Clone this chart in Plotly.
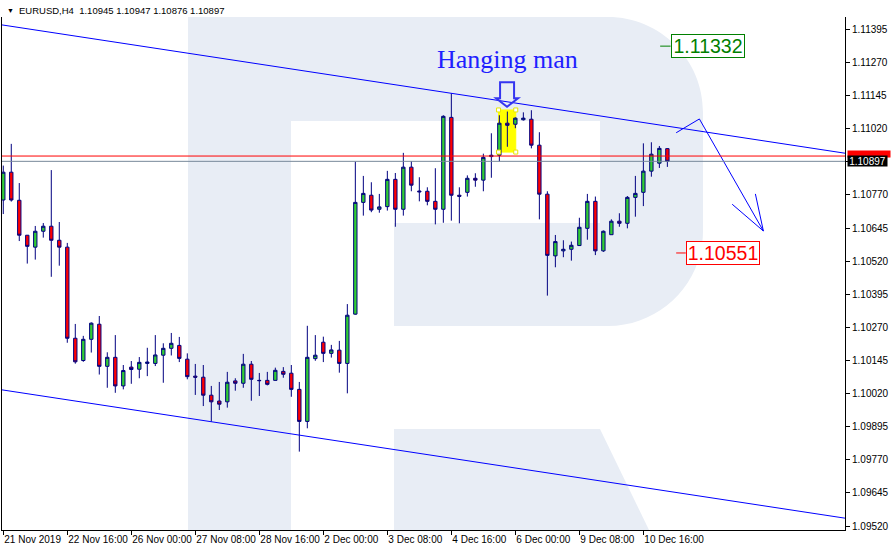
import plotly.graph_objects as go

# EURUSD H4 bars, 21 Nov 2019 08:00 .. 11 Dec 2019 04:00 (bar index on x)
bar_index = list(range(84))

opens = [
    1.10751, 1.10856, 1.10750, 1.10618, 1.10573, 1.10633, 1.10652, 1.10599, 1.10573, 1.10229,
    1.10145, 1.10225, 1.10282, 1.10123, 1.10157, 1.10049, 1.10120, 1.10112, 1.10134, 1.10134,
    1.10165, 1.10191, 1.10202, 1.10150, 1.10086, 1.10082, 1.10014, 1.09992, 1.09989, 1.10068,
    1.10059, 1.10131, 1.10070, 1.10070, 1.10070, 1.10104, 1.10097, 1.10036, 1.09915, 1.10152,
    1.10214, 1.10172, 1.10184, 1.10134, 1.10320, 1.10742, 1.10769, 1.10716, 1.10726, 1.10829,
    1.10716, 1.10875, 1.10785, 1.10784, 1.10746, 1.10716, 1.11063, 1.10769, 1.10780, 1.10833,
    1.10826, 1.10915, 1.10920, 1.11041, 1.11037, 1.11054, 1.11056, 1.10958, 1.10773, 1.10540,
    1.10559, 1.10565, 1.10579, 1.10644, 1.10746, 1.10559, 1.10620, 1.10671, 1.10663, 1.10761,
    1.10780, 1.10860, 1.10890, 1.10945,
]
highs = [
    1.10881, 1.10963, 1.10815, 1.10619, 1.10653, 1.10664, 1.10864, 1.10668, 1.10589, 1.10283,
    1.10238, 1.10289, 1.10313, 1.10176, 1.10241, 1.10128, 1.10143, 1.10158, 1.10193, 1.10241,
    1.10210, 1.10249, 1.10234, 1.10172, 1.10132, 1.10128, 1.10049, 1.10064, 1.10102, 1.10078,
    1.10170, 1.10143, 1.10098, 1.10102, 1.10118, 1.10120, 1.10128, 1.10064, 1.10276, 1.10241,
    1.10235, 1.10204, 1.10219, 1.10358, 1.10896, 1.10842, 1.10818, 1.10774, 1.10861, 1.10853,
    1.10929, 1.10898, 1.10837, 1.10799, 1.10871, 1.11071, 1.11154, 1.10799, 1.10844, 1.10852,
    1.10926, 1.11003, 1.11071, 1.11085, 1.11063, 1.11082, 1.11090, 1.11007, 1.10784, 1.10619,
    1.10599, 1.10594, 1.10684, 1.10774, 1.10764, 1.10636, 1.10678, 1.10701, 1.10766, 1.10842,
    1.10965, 1.10969, 1.10955, 1.10947,
]
lows = [
    1.10698, 1.10745, 1.10596, 1.10511, 1.10526, 1.10609, 1.10461, 1.10503, 1.10212, 1.10133,
    1.10140, 1.10175, 1.10092, 1.10042, 1.10023, 1.10036, 1.10057, 1.10078, 1.10086, 1.10124,
    1.10061, 1.10164, 1.10139, 1.10074, 1.10015, 1.09973, 1.09914, 1.09958, 1.09967, 1.10031,
    1.10042, 1.09993, 1.10011, 1.10051, 1.10069, 1.10080, 1.10008, 1.09801, 1.09889, 1.10144,
    1.10139, 1.10156, 1.10099, 1.10021, 1.10318, 1.10692, 1.10705, 1.10703, 1.10711, 1.10650,
    1.10692, 1.10784, 1.10746, 1.10731, 1.10659, 1.10665, 1.10673, 1.10663, 1.10764, 1.10801,
    1.10784, 1.10835, 1.10897, 1.10952, 1.11022, 1.11051, 1.10946, 1.10678, 1.10390, 1.10497,
    1.10535, 1.10522, 1.10578, 1.10601, 1.10543, 1.10555, 1.10620, 1.10650, 1.10644, 1.10688,
    1.10728, 1.10839, 1.10872, 1.10876,
]
closes = [
    1.10856, 1.10751, 1.10618, 1.10576, 1.10633, 1.10652, 1.10599, 1.10573, 1.10229, 1.10140,
    1.10225, 1.10286, 1.10123, 1.10157, 1.10049, 1.10107, 1.10111, 1.10138, 1.10139, 1.10166,
    1.10191, 1.10210, 1.10153, 1.10084, 1.10082, 1.10014, 1.09989, 1.09980, 1.10063, 1.10059,
    1.10131, 1.10074, 1.10069, 1.10055, 1.10108, 1.10093, 1.10036, 1.09915, 1.10157, 1.10165,
    1.10172, 1.10185, 1.10134, 1.10316, 1.10742, 1.10776, 1.10713, 1.10725, 1.10829, 1.10716,
    1.10875, 1.10807, 1.10782, 1.10746, 1.10716, 1.11067, 1.10769, 1.10765, 1.10833, 1.10826,
    1.10912, 1.10920, 1.11041, 1.11033, 1.11060, 1.11060, 1.10958, 1.10773, 1.10542, 1.10594,
    1.10565, 1.10580, 1.10648, 1.10746, 1.10559, 1.10633, 1.10671, 1.10663, 1.10761, 1.10776,
    1.10860, 1.10924, 1.10946, 1.10897,
]

time_tick_pos = [0, 8, 16, 24, 32, 40, 48, 56, 64, 72, 80]
time_tick_text = ["21 Nov 2019", "22 Nov 16:00", "26 Nov 00:00", "27 Nov 08:00", "28 Nov 16:00",
                  "2 Dec 00:00", "3 Dec 08:00", "4 Dec 16:00", "6 Dec 00:00", "9 Dec 08:00",
                  "10 Dec 16:00"]
price_ticks = [1.09520, 1.09645, 1.09770, 1.09895, 1.10020, 1.10145, 1.10270, 1.10395,
               1.10520, 1.10645, 1.10770, 1.10895, 1.11020, 1.11145, 1.11270, 1.11395]
# 1.10895 sits under the bid price box, so it shows no label
price_tick_text = ["1.09520", "1.09645", "1.09770", "1.09895", "1.10020", "1.10145", "1.10270",
                   "1.10395", "1.10520", "1.10645", "1.10770", "", "1.11020", "1.11145",
                   "1.11270", "1.11395"]

# channel (two parallel trend lines) and forecast arrow
channel_x = [-1, 106]
channel_upper = [1.11416, 1.10924]
channel_lower = [1.10038, 1.09546]
forecast_x = [84.1, 87.0, 95.0]
forecast_y = [1.11005, 1.11057, 1.10634]
head_left_x = [91.1, 95.0, 94.0]
head_left_y = [1.10735, 1.10634, 1.10774]

ask_price = 1.10917
bid_price = 1.10897
target_up = 1.11332
target_down = 1.10551
header = "EURUSD,H4  1.10945 1.10947 1.10876 1.10897"

BLUE = "#0000FF"
WM = "#E8EDF5"

# plot area in pixels: x 2..845, y 17..530
def px(x):
    return (x - 2) / 843

def py(y):
    return (530 - y) / 513

def pt(x, y):
    return f"{px(x):.5f},{py(y):.5f}"

fig = go.Figure()

fig.add_trace(go.Candlestick(
    x=bar_index, open=opens, high=highs, low=lows, close=closes,
    increasing=dict(fillcolor="#32CD32", line=dict(color="#000080", width=1)),
    decreasing=dict(fillcolor="#FF0000", line=dict(color="#000080", width=1)),
    whiskerwidth=0, showlegend=False, hoverinfo="skip",
))

for yy in (channel_upper, channel_lower):
    fig.add_trace(go.Scatter(x=channel_x, y=yy, mode="lines",
                             line=dict(color=BLUE, width=1), showlegend=False, hoverinfo="skip"))
fig.add_trace(go.Scatter(x=forecast_x, y=forecast_y, mode="lines",
                         line=dict(color=BLUE, width=1), showlegend=False, hoverinfo="skip"))
fig.add_trace(go.Scatter(x=head_left_x, y=head_left_y, mode="lines",
                         line=dict(color=BLUE, width=1), showlegend=False, hoverinfo="skip"))

# selection handles of the highlight box
fig.add_trace(go.Scatter(x=[61.9, 64.05, 61.9, 64.05], y=[1.11091, 1.11091, 1.10932, 1.10932],
                         mode="markers", showlegend=False, hoverinfo="skip",
                         marker=dict(symbol="square", size=4, color="white",
                                     line=dict(color="#E6E600", width=1))))

shapes = []
# watermark "R"
shapes.append(dict(type="rect", xref="paper", yref="paper", x0=px(188), x1=px(291),
                   y0=py(530), y1=py(17), fillcolor=WM, line_width=0, layer="below"))
bowl = ("M " + pt(188, 17) + " L " + pt(608, 17) + " C " + pt(660.4, 17) + " " + pt(703, 59.6)
        + " " + pt(703, 112) + " L " + pt(703, 231) + " C " + pt(703, 283.4) + " "
        + pt(660.4, 326) + " " + pt(608, 326) + " L " + pt(394, 326) + " L " + pt(394, 223)
        + " L " + pt(600, 223) + " L " + pt(600, 121) + " L " + pt(188, 121) + " Z")
shapes.append(dict(type="path", xref="paper", yref="paper", path=bowl,
                   fillcolor=WM, line_width=0, layer="below"))
leg = ("M " + pt(394, 429) + " L " + pt(600, 429) + " L " + pt(649, 530) + " L "
       + pt(394, 530) + " Z")
shapes.append(dict(type="path", xref="paper", yref="paper", path=leg,
                   fillcolor=WM, line_width=0, layer="below"))

# yellow highlight of the hanging man
shapes.append(dict(type="rect", xref="x", yref="y", x0=61.9, x1=64.05, y0=1.10932, y1=1.11091,
                   fillcolor="#FFFF00", line=dict(color="#FFFF00", width=1), layer="below"))

# bid / ask lines
shapes.append(dict(type="line", xref="paper", yref="y", x0=0, x1=1, y0=ask_price, y1=ask_price,
                   line=dict(color="#FF0000", width=1)))
shapes.append(dict(type="line", xref="paper", yref="y", x0=0, x1=1, y0=bid_price, y1=bid_price,
                   line=dict(color="#778899", width=1)))

# down arrow over the hanging man
arrow = ("M 62.09,1.11196 L 63.84,1.11196 L 63.84,1.11135 L 64.34,1.11135 L 62.96,1.11103 "
         "L 61.59,1.11135 L 62.09,1.11135 Z")
shapes.append(dict(type="path", xref="x", yref="y", path=arrow,
                   fillcolor="rgba(0,0,0,0)", line=dict(color="#3535F0", width=2)))

# stubs of target labels
shapes.append(dict(type="line", xref="x", yref="y", x0=82.1, x1=83.4, y0=target_up, y1=target_up,
                   line=dict(color="#008000", width=1)))
shapes.append(dict(type="line", xref="x", yref="y", x0=84.1, x1=85.3, y0=target_down,
                   y1=target_down, line=dict(color="#FF0000", width=1)))

annotations = [
    dict(xref="paper", yref="paper", x=px(5), y=py(10.5), text="▼", showarrow=False,
         xanchor="left", yanchor="middle", font=dict(size=7, color="black")),
    dict(xref="paper", yref="paper", x=px(17), y=py(10.5), text=header, showarrow=False,
         xanchor="left", yanchor="middle",
         font=dict(family="Liberation Sans", size=9.5, color="black")),
    dict(xref="x", yref="y", x=63.0, y=1.11281, text="Hanging man", showarrow=False,
         xanchor="center", yanchor="middle",
         font=dict(family="Liberation Serif", size=26, color="#2020FF")),
    dict(xref="x", yref="y", x=83.4, y=target_up, text=f"{target_up:.5f}", showarrow=False,
         xanchor="left", yanchor="middle", bgcolor="white", bordercolor="#008000",
         borderwidth=1, borderpad=0, width=72, height=22,
         font=dict(family="Liberation Sans", size=19.5, color="#008000")),
    dict(xref="x", yref="y", x=85.3, y=target_down, text=f"{target_down:.5f}", showarrow=False,
         xanchor="left", yanchor="middle", bgcolor="white", bordercolor="#FF0000",
         borderwidth=1, borderpad=0, width=72, height=22,
         font=dict(family="Liberation Sans", size=19.5, color="#FF0000")),
    dict(xref="paper", yref="paper", x=px(847), y=py(154), text="",
         showarrow=False, xanchor="left", yanchor="middle", bgcolor="#FF0000", borderpad=0,
         width=42, height=6, font=dict(family="Liberation Sans", size=6, color="white")),
    dict(xref="paper", yref="y", x=px(847), y=bid_price, text=f"{bid_price:.5f}",
         showarrow=False, xanchor="left", yanchor="middle", bgcolor="black", borderpad=0,
         width=39, height=10, font=dict(family="Liberation Sans", size=10, color="white")),
]

fig.update_layout(
    width=891, height=551,
    margin=dict(l=2, r=46, t=17, b=21),
    paper_bgcolor="white", plot_bgcolor="white",
    boxgap=0.4,
    shapes=shapes, annotations=annotations,
    font=dict(family="Liberation Sans", size=10, color="black"),
    xaxis=dict(range=[-0.16, 105.2], tickvals=time_tick_pos, ticktext=time_tick_text,
               ticks="outside", ticklen=4, tickcolor="black", ticklabelposition="outside right",
               tickangle=0, automargin=False,
               showgrid=False, zeroline=False, showline=True, linecolor="black", linewidth=1,
               rangeslider=dict(visible=False), fixedrange=True),
    yaxis=dict(range=[1.09505, 1.11442], side="right", tickvals=price_ticks,
               ticktext=price_tick_text, ticks="outside", ticklen=4, tickcolor="black",
               automargin=False,
               showgrid=False, zeroline=False, showline=True, mirror=True, linecolor="black",
               linewidth=1, fixedrange=True),
)

# the page's default body margin would push the figure 8px off the window
fig.write_html("out.html", config={"displayModeBar": False},
               post_script="document.body.style.margin='0';")
